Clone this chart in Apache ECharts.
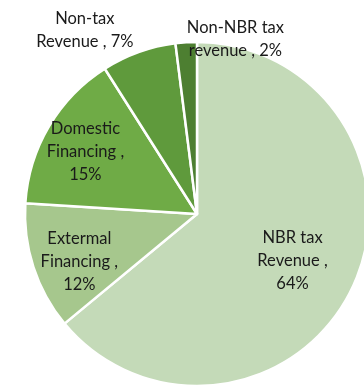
<!DOCTYPE html>
<html>
<head>
<meta charset="utf-8">
<script src="https://cdn.jsdelivr.net/npm/echarts@6/dist/echarts.min.js"></script>
<style>
  html, body { margin: 0; padding: 0; background: #ffffff; }
  #chart { width: 364px; height: 386px; }
</style>
</head>
<body>
<div id="chart"></div>
<script>
// Revenue and financing shares (percent), clockwise from 12 o'clock
const categories = [
  'NBR tax\nRevenue',
  'Extermal\nFinancing',
  'Domestic\nFinancing',
  'Non-tax\nRevenue',
  'Non-NBR tax\nrevenue'
];
const shares = [64, 12, 15, 7, 2];

// slice fills
const sliceColors = ['#c4dab8', '#a6c78d', '#6fab46', '#5f9a3c', '#4d7f31'];
// label nudges from the default inside position, and whether the value sits on its own line
const labelOffsets = [[15, 9], [-33, 20], [-35, -17], [-82, -100], [44, -86]];
const valueOnNewLine = [true, true, true, false, false];

const chart = echarts.init(document.getElementById('chart'), null, { renderer: 'canvas' });

const data = categories.map((name, i) => ({
  name: name,
  value: shares[i],
  itemStyle: { color: sliceColors[i] },
  label: { offset: labelOffsets[i] }
}));

chart.setOption({
  animation: false,
  series: [{
    type: 'pie',
    center: [197, 214],
    radius: [0, 172],
    startAngle: 90,
    clockwise: true,
    avoidLabelOverlap: false,
    itemStyle: { borderColor: '#ffffff', borderWidth: 2.5 },
    label: {
      show: true,
      position: 'inside',
      color: '#1a1a1a',
      fontFamily: 'Lato',
      fontSize: 16.5,
      lineHeight: 23,
      align: 'center',
      formatter: (p) => p.name + ' ,' + (valueOnNewLine[p.dataIndex] ? '\n' : ' ') + p.value + '%'
    },
    labelLine: { show: false },
    emphasis: { disabled: true },
    data: data
  }]
});
</script>
</body>
</html>
